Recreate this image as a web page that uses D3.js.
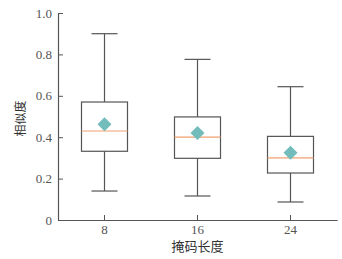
<!DOCTYPE html>
<html><head><meta charset="utf-8">
<script src="https://cdn.jsdelivr.net/npm/d3@7"></script>
<style>html,body{margin:0;padding:0;background:#fff;}</style>
</head><body>
<svg id="c" width="342" height="259"></svg>
<script>
const categories = ["8", "16", "24"];
const whiskerHigh = [0.90, 0.776, 0.644];
const q3 = [0.570, 0.498, 0.404];
const median = [0.430, 0.400, 0.300];
const q1 = [0.332, 0.298, 0.227];
const whiskerLow = [0.140, 0.116, 0.087];
const means = [0.462, 0.420, 0.325];
const yTicks = [0, 0.2, 0.4, 0.6, 0.8, 1.0];
const yTickLabels = ["0", "0.2", "0.4", "0.6", "0.8", "1.0"];

const svg = d3.select("#c");
const m = {l: 58, r: 5, t: 13, b: 39};
const W = 342, H = 259;
const x = d3.scaleBand().domain(categories).range([m.l, W - m.r]).padding(0);
const y = d3.scaleLinear().domain([0, 1]).range([H - m.b, m.t]);
const axisColor = "#555";
const serif = "'Liberation Serif','DejaVu Serif',serif";

// axes
const gx = svg.append("g").attr("transform", `translate(0,${y(0)})`)
  .call(d3.axisBottom(x).tickSize(-5).tickPadding(5).tickSizeOuter(0));
const gy = svg.append("g").attr("transform", `translate(${m.l},0)`)
  .call(d3.axisLeft(y).tickValues(yTicks).tickFormat((d, i) => yTickLabels[i]).tickSize(-5).tickPadding(6).tickSizeOuter(0));
[gx, gy].forEach(g => {
  g.select(".domain").attr("stroke", axisColor).attr("stroke-width", 1.2);
  g.selectAll(".tick line").attr("stroke", axisColor);
  g.selectAll(".tick text").attr("fill", "#555").style("font-family", serif).style("font-size", "13px");
});

const bw = 46, cw = 26;
const boxes = svg.append("g").selectAll("g").data(categories).join("g")
  .attr("transform", d => `translate(${x(d) + x.bandwidth() / 2},0)`);
const lc = "#555";
boxes.append("line").attr("x1", 0).attr("x2", 0)
  .attr("y1", (d, i) => y(whiskerHigh[i])).attr("y2", (d, i) => y(q3[i])).attr("stroke", lc).attr("stroke-width", 1.2);
boxes.append("line").attr("x1", 0).attr("x2", 0)
  .attr("y1", (d, i) => y(q1[i])).attr("y2", (d, i) => y(whiskerLow[i])).attr("stroke", lc).attr("stroke-width", 1.2);
boxes.append("line").attr("x1", -cw / 2).attr("x2", cw / 2)
  .attr("y1", (d, i) => y(whiskerHigh[i])).attr("y2", (d, i) => y(whiskerHigh[i])).attr("stroke", lc).attr("stroke-width", 1.2);
boxes.append("line").attr("x1", -cw / 2).attr("x2", cw / 2)
  .attr("y1", (d, i) => y(whiskerLow[i])).attr("y2", (d, i) => y(whiskerLow[i])).attr("stroke", lc).attr("stroke-width", 1.2);
boxes.append("rect").attr("x", -bw / 2).attr("width", bw)
  .attr("y", (d, i) => y(q3[i])).attr("height", (d, i) => y(q1[i]) - y(q3[i]))
  .attr("fill", "none").attr("stroke", lc).attr("stroke-width", 1.2);
boxes.append("line").attr("x1", -bw / 2).attr("x2", bw / 2)
  .attr("y1", (d, i) => y(median[i])).attr("y2", (d, i) => y(median[i])).attr("stroke", "#f0a070").attr("stroke-width", 1.2);
boxes.append("path").attr("d", "M0,-7L7,0L0,7L-7,0Z")
  .attr("transform", (d, i) => `translate(0,${y(means[i])})`).attr("fill", "#72bcbb");

// labels
svg.append("text").attr("x", x("16") + x.bandwidth() / 2).attr("y", 251)
  .attr("text-anchor", "middle").style("font-family", "'Noto Sans CJK SC'").style("font-size", "13px").attr("fill", "#333").text("掩码长度");
svg.append("text").attr("transform", `translate(25,${(y(0) + y(1)) / 2 + 2}) rotate(-90)`)
  .attr("text-anchor", "middle").style("font-family", "'Noto Sans CJK SC'").style("font-size", "12px").attr("fill", "#333").text("相似度");
</script>
</body></html>
